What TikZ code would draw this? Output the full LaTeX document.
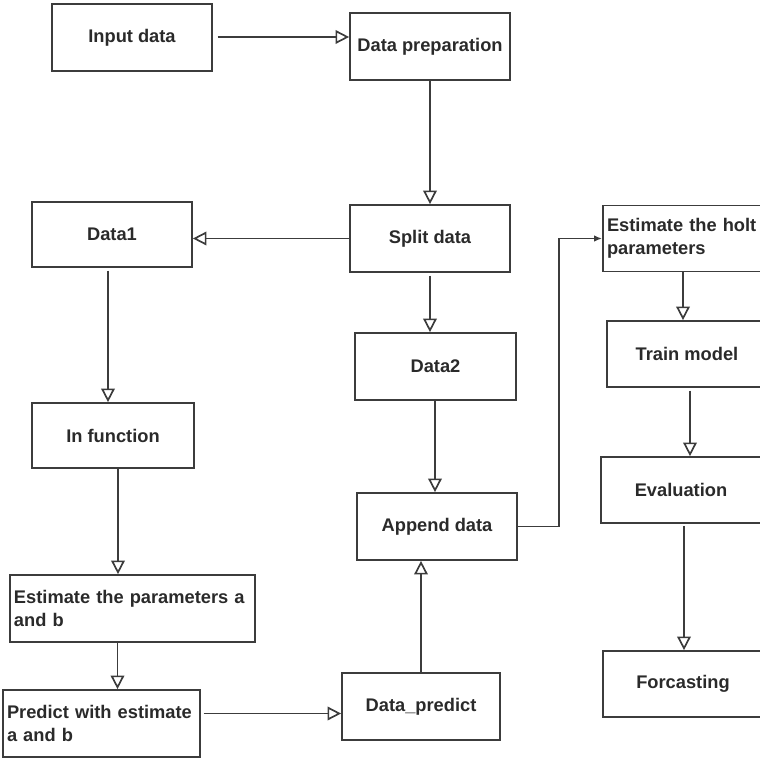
\documentclass[tikz,border=0pt]{standalone}
\usepackage{fontspec}
\setmainfont{Liberation Sans}
\usetikzlibrary{arrows.meta}

\definecolor{boxgray}{HTML}{3C3C3C}
\definecolor{txtgray}{HTML}{2A2A2A}

\tikzset{
  box/.style={draw=boxgray, line width=1.2pt, minimum width=4cm, minimum height=1.675cm,
    inner sep=0.1cm, text=txtgray, font=\fontsize{13}{16.4}\selectfont\bfseries},
  leftbox/.style={box, align=left, text width=#1},
  flow/.style={draw=boxgray, line width=1.2pt, -{Triangle[open, length=0.34cm, width=0.34cm]}},
  elbow/.style={draw=boxgray, line width=1.2pt, -{Latex[length=0.2cm, width=0.16cm]}}
}

\begin{document}
\begin{tikzpicture}

\clip (0,0) rectangle (19,-18.975);

\node[box] (input) at (3.3,-0.9375) {Input data};
\node[box] (prep) at (10.75,-1.1625) {Data preparation};
\node[box] (split) at (10.75,-5.9625) {Split data};
\node[box, minimum height=1.625cm] (data1) at (2.8,-5.8625) {Data1};
\node[box, minimum width=4.025cm] (data2) at (10.8875,-9.1625) {Data2};
\node[box, minimum width=4.05cm, minimum height=1.625cm] (infun) at (2.825,-10.8875) {In function};
\node[box] (append) at (10.925,-13.1625) {Append data};
\node[leftbox=5.925cm] (estab) at (3.3125,-15.2125) {Estimate the parameters a\\and b};
\node[leftbox=4.725cm] (predab) at (2.5375,-18.0875) {Predict with estimate\\a and b};
\node[box, minimum width=3.95cm] (dpred) at (10.525,-17.6625) {Data\_predict};

\node[leftbox=3.8cm, minimum height=1.65cm] (holt) at (17.075,-5.9625) {Estimate the holt\\parameters};
\node[box, minimum height=1.65cm] (train) at (17.175,-8.85) {Train model};
\node[box, minimum height=1.65cm] (eval) at (17.025,-12.25) {Evaluation};
\node[box, minimum height=1.65cm] (forc) at (17.075,-17.1) {Forcasting};

\draw[flow, shorten <=0.12cm] ([yshift=0.0125cm]input.east) -- ([yshift=0.0125cm]input.east -| prep.west);
\draw[flow] (prep) -- (split);
\draw[flow] (split.west) -- (split.west -| data1.east);
\draw[flow, shorten <=0.07cm] ([xshift=-0.1cm]data1.south) -- ([xshift=-0.1cm]data1.south |- infun.north);
\draw[flow, shorten <=0.07cm] (split.south) -- (split.south |- data2.north);
\draw[flow] ([xshift=-0.0125cm]data2.south) -- ([xshift=-0.0125cm]data2.south |- append.north);
\draw[flow] ([xshift=0.125cm]infun.south) -- ([xshift=0.125cm]infun.south |- estab.north);
\draw[flow] (estab.south -| predab.north) ++(0.4,0) coordinate (ep) -- (ep |- predab.north);
\draw[flow, shorten <=0.07cm] ([yshift=0.25cm]predab.east) -- ([yshift=0.25cm]predab.east -| dpred.west);
\draw[flow] (dpred.north) -- (dpred.north |- append.south);
\draw[elbow] (append.east) -- ++(1.025,0) |- (holt.west);
\draw[flow] (holt.south) -- (holt.south |- train.north);
\draw[flow, shorten <=0.07cm] ([xshift=0.075cm]train.south) -- ([xshift=0.075cm]train.south |- eval.north);
\draw[flow, shorten <=0.05cm] ([xshift=0.075cm]eval.south) -- ([xshift=0.075cm]eval.south |- forc.north);

\end{tikzpicture}
\end{document}
